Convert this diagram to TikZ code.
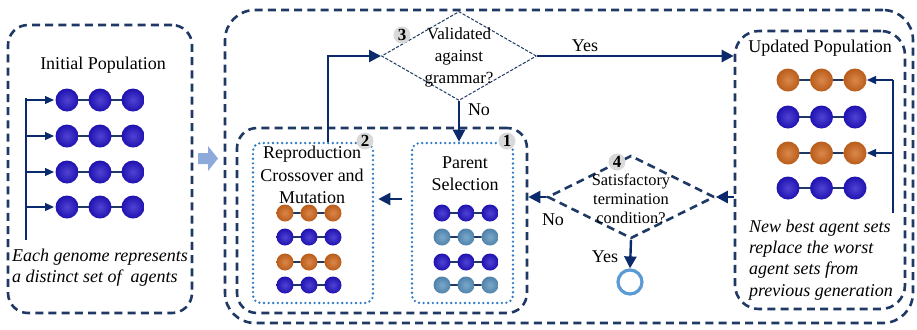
\documentclass[tikz,border=0pt]{standalone}
\usepackage{fontspec}
\setmainfont{Liberation Serif}
\usetikzlibrary{arrows.meta,positioning,calc,shapes.geometric}
\definecolor{Navy}{HTML}{1F3864}
\definecolor{DeepNavy}{HTML}{0B2A6B}
\definecolor{DotBlue}{HTML}{2E7BC4}
\definecolor{RingBlue}{HTML}{5B9BD5}
\definecolor{ShiftBlue}{HTML}{8EAADB}
\definecolor{BallBlue}{HTML}{2414C8}
\definecolor{BallOrange}{HTML}{D2691E}
\definecolor{BallSteel}{HTML}{5A93C0}
\definecolor{BadgeGray}{HTML}{D9D9D9}

% one genome: name, x, y, gap, radius, colour
\newcommand{\genome}[6]{%
  \coordinate (#1) at (#2,#3);
  \draw[bond] (#2,#3) -- ++(2*#4,0);
  \foreach \k in {0,1,2}
    \shade[inner color=#6!80!white,outer color=#6!88!black] (#2+\k*#4,#3) circle[radius=#5];
}

\begin{document}
\begin{tikzpicture}[x=0.5pt,y=-0.5pt,
    dashbox/.style={draw=Navy,line width=1.3pt,dash pattern=on 4pt off 2.6pt,rounded corners=#1,inner sep=0pt},
    dashbox/.default=10pt,
    dotbox/.style={draw=DotBlue,line width=1.3pt,line cap=round,dash pattern=on 0pt off 2.3pt,rounded corners=4pt,inner sep=0pt},
    gramdia/.style={diamond,draw=Navy,line width=.5pt,dash pattern=on 1.6pt off .8pt,inner sep=0pt},
    termdia/.style={diamond,draw=Navy,line width=1.3pt,dash pattern=on 4pt off 2.6pt,inner sep=0pt},
    endring/.style={circle,draw=RingBlue,line width=1.6pt,minimum size=12pt,inner sep=0pt},
    badge/.style={circle,fill=BadgeGray,inner sep=0pt,minimum size=8.5pt,font=\fontsize{8.5}{8.5}\selectfont\bfseries},
    lbl/.style={font=\fontsize{9}{11}\selectfont,align=center,inner sep=0pt},
    note/.style={font=\fontsize{9}{10.6}\selectfont\itshape,align=left,inner sep=0pt},
    flow/.style={draw=DeepNavy,line width=1.2pt,-{Triangle[length=6pt,width=6pt]}},
    thinline/.style={draw=DeepNavy,line width=.6pt},
    thinflow/.style={thinline,-{Triangle[length=4.5pt,width=4pt]}},
    bond/.style={draw=Navy,line width=.6pt}]
  \useasboundingbox (0,0) rectangle (917,329);

  % boxes
  \node[dashbox=10pt,minimum width=92pt,minimum height=144pt] (initbox) at (100,169) {};
  \node[dashbox=15pt,minimum width=344pt,minimum height=156.5pt] (loopbox) at (569,166.5) {};
  \node[dashbox=10pt,minimum width=145pt,minimum height=92.5pt] (selbox) at (382,220.5) {};
  \node[dotbox,minimum width=60pt,minimum height=80pt] (repbox) at (313,223) {};
  \node[dotbox,minimum width=50.5pt,minimum height=80pt] (parbox) at (462.5,223) {};
  \node[dashbox=12pt,minimum width=85pt,minimum height=139pt] (updbox) at (820,170) {};
  \node[gramdia,minimum width=77.5pt,minimum height=44.5pt] (gram) at (459,56) {};
  \node[termdia,minimum width=83.5pt,minimum height=41.5pt] (term) at (631,197) {};
  \node[endring] (stop) at (630,282) {};

  % shift arrow between the two halves
  \fill[ShiftBlue] (198,153) -- (208,153) -- (208,146) -- (218,158.5) -- (208,171) -- (208,164) -- (198,164) -- cycle;

  % texts
  \node[lbl] (inittitle) at (103,65) {Initial Population};
  \node[note] (initnote) at (100,268) {Each genome represents\\a distinct set of\ \ agents};
  \node[lbl,font=\fontsize{9}{11.2}\selectfont] (reptext) at (312,175) {Reproduction\\Crossover and\\Mutation};
  \node[lbl] (partext) at (465,174) {Parent\\Selection};
  \node[lbl,font=\fontsize{8.5}{11}\selectfont] (gramtext) at (459,57) {Validated\\against\\grammar?};
  \node[lbl,font=\fontsize{8.2}{9.5}\selectfont] (termtext) at (631,199) {Satisfactory\\termination\\condition?};
  \node[lbl] (updtitle) at (820,48) {Updated Population};
  \node[note] (updnote) at (821,260) {New best agent sets\\replace the worst\\agent sets from\\previous generation};

  % step badges
  \node[badge] (b1) at (507,141) {1};
  \node[badge] (b2) at (365,141) {2};
  \node[badge] (b3) at (402,35) {3};
  \node[badge] (b4) at (617,162) {4};

  % genomes
  \coordinate (itop) at (26,98);
  \coordinate (ibot) at (26,240);
  \draw[thinline] (itop) -- (ibot);
  \foreach \r/\y in {1/100,2/136,3/172,4/207}{
    \genome{ini\r}{67}{\y}{33}{5.75pt}{BallBlue}
    \draw[thinflow] (ini\r -| itop) -- ([xshift=-6.5pt]ini\r);
  }
  \foreach \r/\y/\c in {1/213/BallOrange,2/237/BallBlue,3/262/BallOrange,4/285/BallBlue}
    \genome{rep\r}{285}{\y}{24}{4.25pt}{\c};
  \foreach \r/\y/\c in {1/213/BallBlue,2/237/BallSteel,3/262/BallBlue,4/285/BallSteel}
    \genome{par\r}{442}{\y}{24}{4.25pt}{\c};
  \foreach \r/\y/\c in {1/80/BallOrange,2/117/BallBlue,3/153/BallOrange,4/188/BallBlue}
    \genome{upd\r}{788}{\y}{33.5}{5.75pt}{\c};
  \coordinate (utop) at (893,80);
  \coordinate (ubot) at (893,213);
  \draw[thinline] (utop) -- (ubot);
  \draw[thinflow] (utop) -- ([xshift=39.5pt]upd1);
  \draw[thinflow] (utop |- upd3) -- ([xshift=39.5pt]upd3);

  % flow
  \draw[flow] ([xshift=7.5pt]repbox.north) |- (gram.west);
  \draw[flow] (gram.south) -- (gram.south |- parbox.north);
  \draw[flow] (gram.east) -- (gram.east -| updbox.west);
  \draw[flow,shorten <=4.5pt,shorten >=2pt] ([yshift=12pt]parbox.west) -- ([yshift=12pt]repbox.east);
  \draw[flow] (updbox.west |- term.east) -- (term.east);
  \draw[flow] (term.west) -- (term.west -| selbox.east);
  \draw[flow] (term.south) -- (stop.north);

  % branch labels
  \node[lbl] (gramno) at (479,110) {No};
  \node[lbl] (gramyes) at (585,46) {Yes};
  \node[lbl] (termno) at (553,220) {No};
  \node[lbl] (termyes) at (605,257) {Yes};
\end{tikzpicture}
\end{document}
